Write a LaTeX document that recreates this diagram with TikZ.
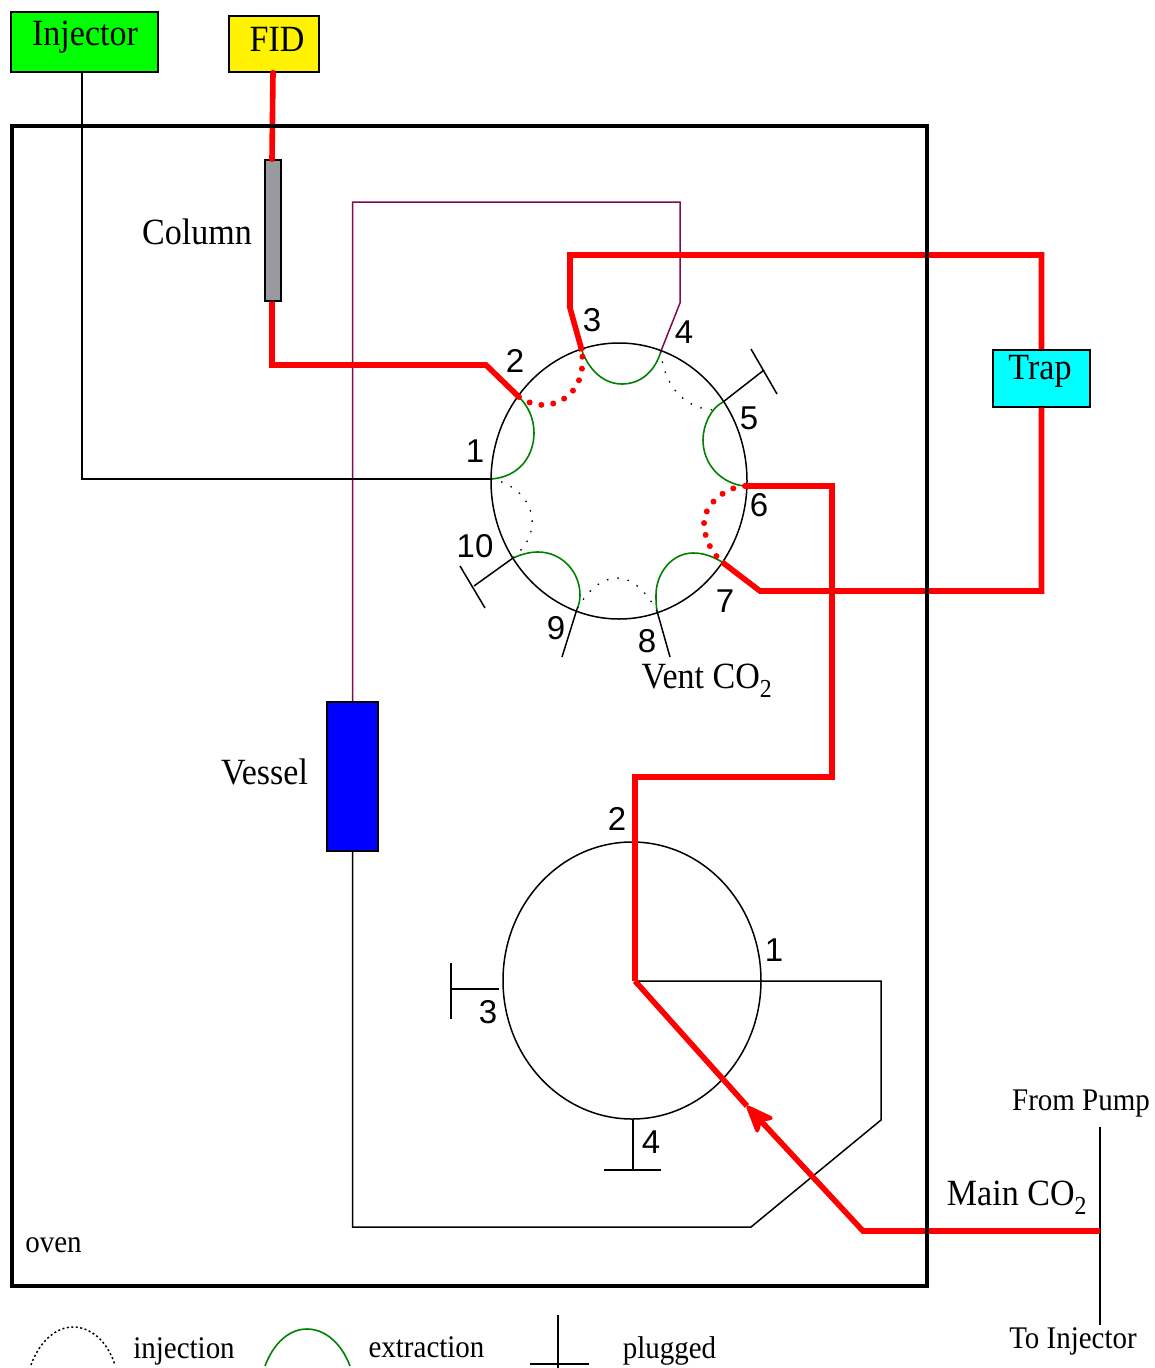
\documentclass[tikz,border=0pt]{standalone}
\usepackage{fontspec}
\usepackage{xcolor}
\usepackage{tikz}
\usetikzlibrary{arrows.meta,shapes.geometric}
\setmainfont[FakeStretch=0.92]{Liberation Serif}
\newfontfamily\numfont{Liberation Sans}
\definecolor{pipegreen}{RGB}{0,128,0}
\definecolor{pipepurple}{RGB}{128,10,80}
\definecolor{columngray}{RGB}{153,153,160}
\definecolor{trapcyan}{RGB}{0,255,255}
\tikzset{
    box/.style={draw=black,line width=1.3pt,inner sep=0pt,anchor=center},
    bigtext/.style={inner sep=0pt,font=\fontsize{37}{42}\selectfont},
    smalltext/.style={inner sep=0pt,font=\fontsize{31.5}{36}\selectfont},
    num/.style={inner sep=0pt,font=\fontsize{33}{38}\selectfont\numfont},
    thin line/.style={line width=1.5pt,line join=miter},
    redpipe/.style={red,line width=5.6pt,line join=miter},
    extract/.style={pipegreen,line width=1.6pt},
    inject/.style={black,line width=1.3pt,dash pattern=on 1.5pt off 9pt},
    redinject/.style={red,line width=6pt,line cap=round,dash pattern=on 0pt off 12pt},
}
\begin{document}
\begin{tikzpicture}[x=1pt,y=-1pt]
    \useasboundingbox (0,0) rectangle (1154,1368);
    % Boxes
    \node[box,fill=green,minimum width=147pt,minimum height=60pt] (injector) at (84.5,42) {};
    \node[bigtext] (injectortext) at (85,37) {Injector};
    \node[box,fill=yellow,minimum width=90pt,minimum height=56pt] (fid) at (274,44) {};
    \node[bigtext] (fidtext) at (277,39) {FID};
    \node[box,fill=trapcyan,minimum width=97pt,minimum height=57pt] (trap) at (1041.5,378.5) {};
    \node[bigtext] (traptext) at (1040,371) {Trap};
    \node[box,fill=columngray,minimum width=16pt,minimum height=141pt] (column) at (273,230.5) {};
    \node[box,fill=blue,minimum width=51pt,minimum height=149pt] (vessel) at (352.5,776.5) {};
    % Ports
    \coordinate (p1) at (491,479);
    \coordinate (p2) at (519,397);
    \coordinate (p3) at (582,351);
    \coordinate (p4) at (661,351);
    \coordinate (p5) at (723,402);
    \coordinate (p6) at (745,486);
    \coordinate (p7) at (722,562);
    \coordinate (p8) at (657,611);
    \coordinate (p9) at (577,609);
    \coordinate (p10) at (513,558);
    \coordinate (hub) at (635,981);
    % Thin lines
    \draw[thin line,pipepurple] (vessel.north) |- (680,202) -- (680,303) -- (p4);
    \draw[thin line] ([xshift=-2.5pt]injector.south) |- (p1);
    \draw[thin line] (hub) -- (881,981) -- (881,1120) -- (751,1227) -| (vessel.south);
    \draw[thin line] (1100,1127) -- (1100,1325);
    % Valve bodies
    \node[draw,line width=1.5pt,ellipse,minimum width=256pt,minimum height=276pt,inner sep=0pt] (ring) at (619,481) {};
    \node[draw,line width=1.5pt,ellipse,minimum width=258pt,minimum height=277pt,inner sep=0pt] (lower) at (632,980.5) {};
    % Plugged ports
    \draw[thin line] (p5) -- (764,370);
    \draw[thin line] (751,349) -- (777,394);
    \draw[thin line] (p10) -- (474,586);
    \draw[thin line] (460,566) -- (485,608);
    \draw[thin line] (p9) -- (562,657);
    \draw[thin line] (p8) -- (670,657);
    \draw[thin line] (499,989) -- (451,989);
    \draw[thin line] (451,963) -- (451,1019);
    \draw[thin line] (633,1119) -- (633,1170);
    \draw[thin line] (604,1170) -- (661,1170);
    % Extraction loops
    \draw[extract] (p1) .. controls (520,477) and (534,455) .. (534,433) .. controls (534,418) and (528,406) .. (p2);
    \draw[extract] (p3) .. controls (590,372) and (605,384) .. (622,384) .. controls (640,384) and (655,372) .. (p4);
    \draw[extract] (p5) .. controls (711,408) and (703,425) .. (703,440) .. controls (703,465) and (722,484) .. (p6);
    \draw[extract] (p7) .. controls (712,556) and (703,553) .. (693,553) .. controls (672,553) and (656,573) .. (656,595) .. controls (656,600) and (656,605) .. (p8);
    \draw[extract] (p10) .. controls (522,554) and (530,552) .. (538,552) .. controls (562,552) and (580,572) .. (580,595) .. controls (580,600) and (579,605) .. (p9);
    % Injection loops
    \draw[inject] (p1) .. controls (518,484) and (534,505) .. (532,525) .. controls (531,537) and (526,546) .. (p10);
    \draw[inject] (p4) .. controls (663,385) and (685,410) .. (716,410);
    \draw[inject] (p8) .. controls (645,590) and (632,578) .. (617,578) .. controls (602,578) and (588,590) .. (p9);
    \draw[redinject] (p2) .. controls (535,408) and (555,408) .. (570,394) .. controls (580,384) and (584,370) .. (p3);
    \draw[redinject] (p6) .. controls (725,487) and (703,505) .. (704,525) .. controls (705,540) and (712,553) .. (p7);
    % Red pipes
    \draw[redpipe,line cap=round] ([xshift=-1pt]fid.south) -- ([xshift=-1pt]column.north);
    \draw[redpipe] ([xshift=-1pt]column.south) -- (272,365) -- (486,365) -- (p2);
    \draw[redpipe] (trap.north) |- (570,255) -- (570,308) -- (p3);
    \draw[redpipe] (trap.south) |- (760,591) -- (p7);
    \draw[redpipe] (p6) -- (832,486) -- (832,777) -- (635,777) -- (hub);
    \coordinate (corner) at (863,1231);
    \coordinate (tip) at (747,1106);
    \draw[redpipe] (hub) -- (tip);
    \draw[redpipe,-{Stealth[length=33pt,width=26pt,inset=8pt,round,line width=4pt]}] (1100,1231) -- (corner) -- (tip);
    % Oven
    \node[draw,line width=4.5pt,minimum width=915pt,minimum height=1160pt,inner sep=0pt] (oven) at (469.5,706) {};
    % Labels
    \node[bigtext] (columntext) at (197,232) {Column};
    \node[bigtext] (vesseltext) at (264.5,772) {Vessel};
    \node[bigtext] (venttext) at (707,681) {Vent CO\textsubscript{2}};
    \node[bigtext] (maintext) at (1017,1198) {Main CO\textsubscript{2}};
    \node[smalltext] (oventext) at (53.5,1245) {oven};
    \node[smalltext] (pumptext) at (1081,1104) {From Pump};
    \node[smalltext] (totext) at (1073,1341) {To Injector};
    % Port numbers
    \node[num] (n1) at (475,451) {1};
    \node[num] (n2) at (515,361) {2};
    \node[num] (n3) at (592,320) {3};
    \node[num] (n4) at (684,332) {4};
    \node[num] (n5) at (749,418) {5};
    \node[num] (n6) at (759,505) {6};
    \node[num] (n7) at (725,601) {7};
    \node[num] (n8) at (647,641) {8};
    \node[num] (n9) at (556,628) {9};
    \node[num] (n10) at (475,546) {10};
    \node[num] (m1) at (774,950) {1};
    \node[num] (m2) at (617,819) {2};
    \node[num] (m3) at (488,1012) {3};
    \node[num] (m4) at (651,1142) {4};
    % Legend
    \draw[line width=1.5pt,dash pattern=on 2pt off 2.5pt] (31,1365) .. controls (40,1340) and (57,1327) .. (73,1327) .. controls (90,1327) and (107,1340) .. (115,1365);
    \node[smalltext] (injectiontext) at (184,1351) {injection};
    \draw[extract] (265,1366) .. controls (274,1342) and (290,1329) .. (307,1329) .. controls (324,1329) and (341,1342) .. (350,1366);
    \node[smalltext] (extractiontext) at (426.5,1347) {extraction};
    \draw[thin line] (558,1315) -- (558,1368);
    \draw[thin line] (530,1364) -- (589,1364);
    \node[smalltext] (pluggedtext) at (669.5,1351) {plugged};
\end{tikzpicture}
\end{document}
